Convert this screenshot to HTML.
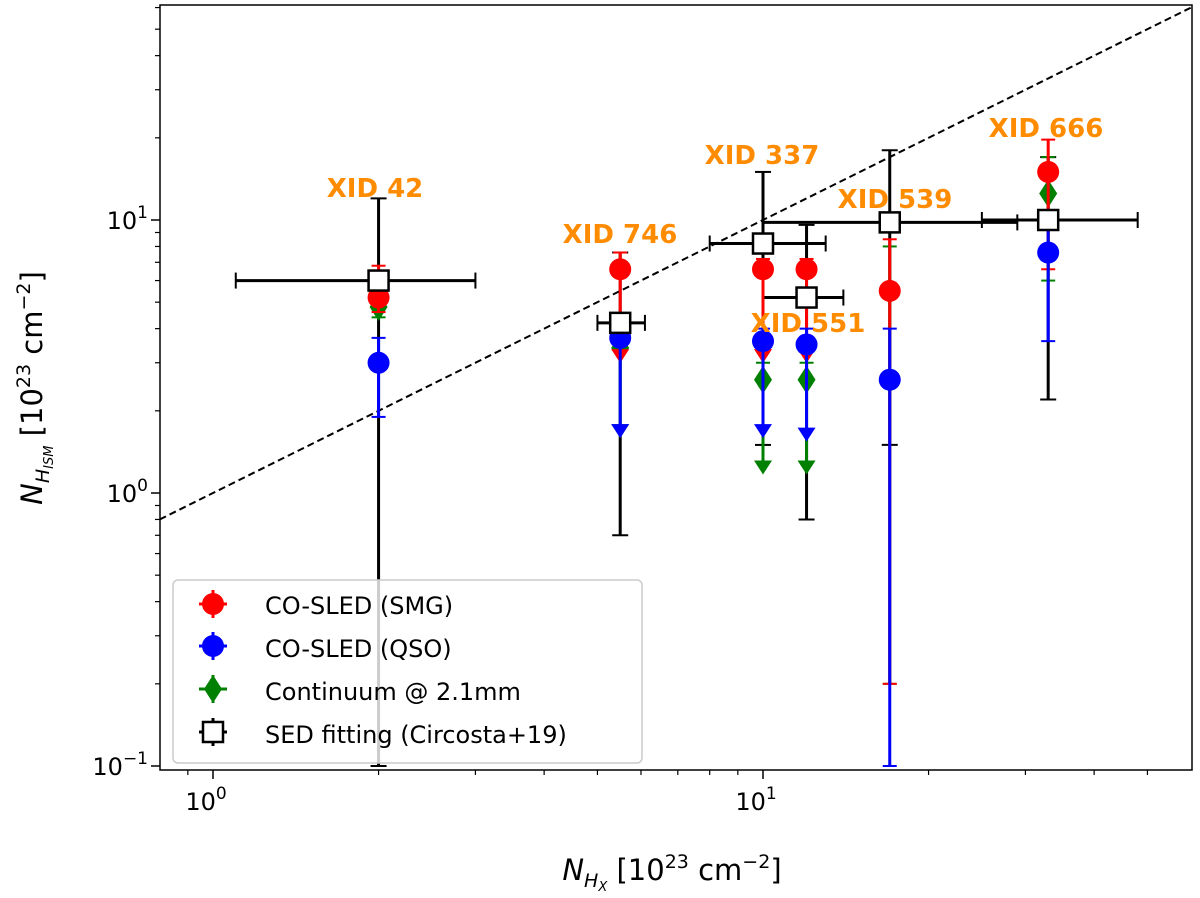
<!DOCTYPE html>
<html><head><meta charset="utf-8"><style>
body{margin:0;background:#fff}
svg{display:block;font-family:"DejaVu Sans","Liberation Sans",sans-serif}
</style></head><body>
<svg id="c" width="1200" height="898" viewBox="0 0 1200 898" style="position:absolute;left:0;top:0">
<g id="plot"></g>
</svg>
<script>
const NS="http://www.w3.org/2000/svg";
const svg=document.getElementById('c');
const g=document.getElementById('plot');
// data
const sources=["XID 42","XID 746","XID 337","XID 551","XID 539","XID 666"];
const xVals=[2,5.5,10,12,17,33];
const sedY=[6,4.2,8.2,5.2,9.8,10];
const sedYlo=[0.1,0.7,1.5,0.8,1.5,2.2];
const sedYhi=[12,7.6,15,9.6,18,17];
const sedXlo=[1.1,5,8,10,10,25];
const sedXhi=[3,6.1,13,14,29,48];
const smgY=[5.2,6.6,6.6,6.6,5.5,15];
const smgLo=[4.6,3.2,3.2,3.2,0.2,6.6];
const smgHi=[6.8,7.6,7.2,7.2,8.5,19.7];
const smgLim=[0,1,1,1,0,0];
const qsoY=[3,3.7,3.6,3.5,2.6,7.6];
const qsoLo=[1.9,1.7,1.7,1.65,0.1,3.6];
const qsoHi=[3.7,4.2,4,4,4,9.5];
const qsoLim=[0,1,1,1,0,0];
const contY=[4.8,3.4,2.6,2.6,5.5,12.5];
const contLo=[4.4,1.7,1.25,1.25,0.2,6];
const contHi=[5.3,4,3,3,8,17];
const contLim=[0,1,1,1,0,0];
const labelX=[375,620,762,808,895,1046];
const labelY=[187,233,154,322,198,127];
const xTicks=[1,10];
const xTickExp=["0","1"];
const yTicks=[0.1,1,10];
const yTickExp=["−1","0","1"];

const X0=160,X1=1192,Y0=5,Y1=770;
const xs=v=>213+550*Math.log10(v);
const ys=v=>493-273*Math.log10(v);
function el(t,a,p){const e=document.createElementNS(NS,t);for(const k in a)e.setAttribute(k,a[k]);(p||g).appendChild(e);return e;}

const d=el('line',{x1:xs(0.8),y1:ys(0.8),x2:xs(60),y2:ys(60),stroke:'#000','stroke-width':2,'stroke-dasharray':'7,4'});



function errbar(x,y,lo,hi,color,w){
  const gg=el('g',{});
  el('line',{x1:x,y1:ys(lo),x2:x,y2:ys(hi),stroke:color,'stroke-width':w},gg);
  el('line',{x1:x-7,y1:ys(hi),x2:x+7,y2:ys(hi),stroke:color,'stroke-width':2},gg);
  return gg;
}
function tri(x,y,color){el('polygon',{points:`${x-9},${y-6} ${x+9},${y-6} ${x},${y+8}`,fill:color});}

xVals.forEach((v,i)=>{
  const x=xs(v),y=ys(sedY[i]);
  const gg=el('g',{});
  
  
  el('line',{x1:x,y1:ys(sedYlo[i]),x2:x,y2:ys(sedYhi[i]),stroke:'#000','stroke-width':3},gg);
  el('line',{x1:x-8,y1:ys(sedYhi[i]),x2:x+8,y2:ys(sedYhi[i]),stroke:'#000','stroke-width':2},gg);
  el('line',{x1:x-8,y1:ys(sedYlo[i]),x2:x+8,y2:ys(sedYlo[i]),stroke:'#000','stroke-width':2},gg);
  el('line',{x1:xs(sedXlo[i]),y1:y,x2:xs(sedXhi[i]),y2:y,stroke:'#000','stroke-width':3},gg);
  el('line',{x1:xs(sedXlo[i]),y1:y-8,x2:xs(sedXlo[i]),y2:y+8,stroke:'#000','stroke-width':2},gg);
  el('line',{x1:xs(sedXhi[i]),y1:y-8,x2:xs(sedXhi[i]),y2:y+8,stroke:'#000','stroke-width':2},gg);
});
function series(Y,LO,HI,LIM,color,shape,name){
  xVals.forEach((v,i)=>{
    const x=xs(v),y=ys(Y[i]);
    const gg=errbar(x,y,LO[i],HI[i],color,3);
    
    
    if(LIM[i]) tri(x,ys(LO[i]),color);
    else el('line',{x1:x-7,y1:ys(LO[i]),x2:x+7,y2:ys(LO[i]),stroke:color,'stroke-width':2});
    if(shape==='c') el('circle',{cx:x,cy:y,r:11,fill:color});
    else el('polygon',{points:`${x},${y-14} ${x+9},${y} ${x},${y+14} ${x-9},${y}`,fill:color});
  });
}
series(contY,contLo,contHi,contLim,'#008000','d','continuum');
series(smgY,smgLo,smgHi,smgLim,'#ff0000','c','smg');
series(qsoY,qsoLo,qsoHi,qsoLim,'#0000ff','c','qso');
xVals.forEach((v,i)=>{
  const s=el('rect',{x:xs(v)-10,y:ys(sedY[i])-10,width:20,height:20,fill:'#fff',stroke:'#000','stroke-width':2.5});
  
  
});
sources.forEach((s,i)=>{
  const t=el('text',{x:labelX[i],y:labelY[i]+10,'text-anchor':'middle','font-size':26,'font-weight':'bold',fill:'#ff8c00'});
  t.textContent=s;
  
  
});
const fr=el('rect',{x:X0,y:Y0,width:X1-X0,height:Y1-Y0,fill:'none',stroke:'#000','stroke-width':1.5},svg);


for(let dec=-1;dec<=1;dec++)for(let m=2;m<=9;m++){
  const v=m*Math.pow(10,dec);
  if(v>0.8&&v<60){el('line',{x1:xs(v),y1:Y1,x2:xs(v),y2:Y1+5,stroke:'#000','stroke-width':1.2},svg);}
  if(v>0.097&&v<61){el('line',{x1:X0,y1:ys(v),x2:X0-5,y2:ys(v),stroke:'#000','stroke-width':1.2},svg);}
}
xTicks.forEach((v,i)=>{
  el('line',{x1:xs(v),y1:Y1,x2:xs(v),y2:Y1+9,stroke:'#000','stroke-width':1.5},svg);
  const t=el('text',{x:xs(v)-7,y:Y1+40,'text-anchor':'middle','font-size':24,fill:'#000'},svg);
  t.innerHTML='10<tspan dy="-11" font-size="17">'+xTickExp[i]+'</tspan>';
  
  
});
yTicks.forEach((v,i)=>{
  el('line',{x1:X0,y1:ys(v),x2:X0-9,y2:ys(v),stroke:'#000','stroke-width':1.5},svg);
  const t=el('text',{x:X0-12,y:ys(v)+9,'text-anchor':'end','font-size':24,fill:'#000'},svg);
  t.innerHTML='10<tspan dy="-11" font-size="17">'+yTickExp[i]+'</tspan>';
  
  
});
</script>
<svg width="1200" height="898" style="position:absolute;left:0;top:0">
<text x="672" y="880" text-anchor="middle" font-size="29" font-family="DejaVu Sans,Liberation Sans,sans-serif"><tspan font-style="italic">N</tspan><tspan font-style="italic" font-size="19" dy="7">H</tspan><tspan font-style="italic" font-size="13" dy="4">X</tspan><tspan dy="-11"> [10</tspan><tspan font-size="19" dy="-12">23</tspan><tspan dy="12"> cm</tspan><tspan font-size="19" dy="-12">−2</tspan><tspan dy="12">]</tspan></text>
<text transform="translate(42,388) rotate(-90)" text-anchor="middle" font-size="29" font-family="DejaVu Sans,Liberation Sans,sans-serif"><tspan font-style="italic">N</tspan><tspan font-style="italic" font-size="19" dy="7">H</tspan><tspan font-style="italic" font-size="13" dy="4">ISM</tspan><tspan dy="-11"> [10</tspan><tspan font-size="19" dy="-12">23</tspan><tspan dy="12"> cm</tspan><tspan font-size="19" dy="-12">−2</tspan><tspan dy="12">]</tspan></text>
<g font-family="DejaVu Sans,sans-serif" font-size="24">
<rect x="173" y="580" width="469" height="183" rx="5" fill="#fff" fill-opacity="0.8" stroke="#ccc" stroke-width="1.5"/>
<g><line x1="213" y1="590" x2="213" y2="618" stroke="#f00" stroke-width="3"/><line x1="199" y1="604" x2="227" y2="604" stroke="#f00" stroke-width="3"/><circle cx="213" cy="604" r="11" fill="#f00"/><text x="265" y="614">CO-SLED (SMG)</text></g>
<g><line x1="213" y1="632" x2="213" y2="660" stroke="#00f" stroke-width="3"/><line x1="199" y1="646" x2="227" y2="646" stroke="#00f" stroke-width="3"/><circle cx="213" cy="646" r="11" fill="#00f"/><text x="265" y="657">CO-SLED (QSO)</text></g>
<g><line x1="213" y1="675" x2="213" y2="703" stroke="#008000" stroke-width="3"/><line x1="199" y1="689" x2="227" y2="689" stroke="#008000" stroke-width="3"/><polygon points="213,675 222,689 213,703 204,689" fill="#008000"/><text x="265" y="700">Continuum @ 2.1mm</text></g>
<g><line x1="213" y1="718" x2="213" y2="746" stroke="#000" stroke-width="3"/><line x1="199" y1="732" x2="227" y2="732" stroke="#000" stroke-width="3"/><rect x="203" y="722" width="20" height="20" fill="#fff" stroke="#000" stroke-width="2.5"/><text x="265" y="743">SED fitting (Circosta+19)</text></g>
</g>
</svg>
</body></html>
